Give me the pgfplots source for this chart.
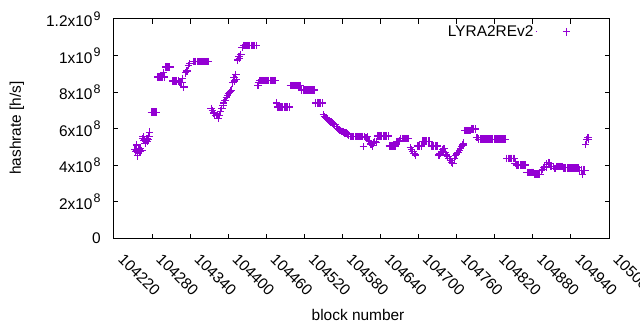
\documentclass[border=0pt]{standalone}
\usepackage{pgfplots}
\pgfplotsset{compat=1.18}
\usepackage{fontspec}
\setmainfont{Liberation Sans}
\definecolor{dviolet}{RGB}{148,0,211}
\newcommand{\ex}[1]{\kern1.2bp\raisebox{0.42em}{\fontsize{12.5}{14}\selectfont #1}}
\begin{document}
\fontsize{15.5}{18}\selectfont
\begin{tikzpicture}
\path[use as bounding box] (-114bp,-92bp) rectangle (526bp,238bp);
\begin{axis}[
  at={(0,0)}, anchor=south west,
  scale only axis, width=495bp, height=219bp,
  xmin=104220, xmax=105000, ymin=0, ymax=12,
  scaled x ticks=false, scaled y ticks=false,
  xtick={104220,104280,104340,104400,104460,104520,104580,104640,104700,104760,104820,104880,104940,105000},
  xticklabels={104220,104280,104340,104400,104460,104520,104580,104640,104700,104760,104820,104880,104940,105000},
  ytick={0,2,4,6,8,10,12},
  yticklabels={0,2x10\ex{8},4x10\ex{8},6x10\ex{8},8x10\ex{8},1x10\ex{9},1.2x10\ex{9}},
  xticklabel style={xshift=11bp, yshift=-7bp, rotate=-45, anchor=north west, font=\fontsize{15.5}{18}\selectfont},
  yticklabel style={xshift=-8bp, font=\fontsize{15.5}{18}\selectfont},
  tick align=inside, major tick length=4.5bp,
  tick style={black, line width=1bp},
  axis line style={line width=1bp},
  xlabel={block number},
  ylabel={hashrate [h/s]},
  xlabel style={at={(axis description cs:0.493,-0.352)}, anchor=center},
  ylabel style={at={(axis description cs:-0.196,0.502)}, anchor=center},
  legend plot pos=right,
  legend style={draw=none, fill=none, at={(rel axis cs:0.664,0.941)}, anchor=west, font=\fontsize{15.5}{18}\selectfont},
  legend image code/.code={\path (0bp,0bp) -- (0.1bp,0bp); \draw[dviolet, line width=1.15bp] plot[only marks, mark=+, mark size=3.7bp] coordinates {(30.5bp,0bp)};},
]
\addplot[only marks, mark=+, mark size=3.7bp, dviolet, line width=1.15bp] table {
x y
104253 4.85
104254 4.75
104255 4.80
104256 5.10
104257 4.50
104258 4.85
104259 4.80
104260 4.85
104261 4.75
104262 4.90
104264 4.80
104265 5.45
104266 5.55
104267 5.35
104268 5.40
104269 5.20
104270 5.30
104271 5.35
104272 5.45
104273 5.30
104274 5.40
104275 5.55
104276 5.80
104279 6.90
104281 6.90
104283 6.90
104285 6.90
104287 6.90
104289 8.82
104291 8.82
104293 8.82
104295 8.82
104297 8.82
104298 9.06
104299 8.82
104302 9.37
104304 9.37
104306 9.37
104308 9.37
104313 8.60
104315 8.60
104317 8.60
104319 8.60
104321 8.60
104323 8.52
104325 8.52
104327 8.52
104328 8.75
104330 8.27
104333 9.05
104335 9.15
104337 9.45
104339 9.55
104345 9.67
104347 9.67
104349 9.67
104351 9.67
104353 9.67
104355 9.67
104357 9.67
104359 9.67
104361 9.67
104363 9.67
104365 9.67
104367 9.67
104369 9.67
104373 7.10
104375 7.00
104377 6.85
104379 6.80
104381 6.70
104383 6.75
104384 6.57
104386 6.72
104388 6.95
104390 7.10
104392 7.25
104393 7.40
104395 7.55
104397 7.70
104399 7.80
104400 7.90
104402 7.95
104404 8.05
104405 8.10
104407 8.50
104409 8.80
104410 8.60
104412 8.95
104413 8.70
104415 9.75
104417 9.95
104418 9.85
104420 10.05
104422 10.45
104424 10.55
104426 10.55
104428 10.55
104430 10.55
104432 10.55
104434 10.55
104436 10.55
104438 10.55
104440 10.55
104442 10.55
104444 10.55
104447 8.35
104448 8.50
104450 8.63
104452 8.63
104454 8.63
104456 8.63
104458 8.63
104460 8.63
104462 8.63
104464 8.63
104466 8.63
104468 8.63
104470 8.63
104472 8.63
104474 8.63
104476 7.40
104478 7.18
104480 7.18
104482 7.18
104484 7.18
104486 7.18
104488 7.18
104490 7.18
104492 7.18
104494 7.18
104496 7.18
104498 8.35
104500 8.35
104502 8.35
104504 8.35
104506 8.35
104508 8.35
104510 8.35
104512 8.35
104514 8.35
104516 8.11
104518 8.11
104520 8.11
104522 8.11
104524 8.11
104526 8.11
104528 8.11
104530 8.11
104532 8.11
104534 8.11
104536 8.11
104538 7.40
104540 7.40
104542 7.40
104544 7.40
104546 7.40
104548 7.40
104550 6.75
104552 6.65
104554 6.60
104556 6.55
104558 6.45
104560 6.40
104562 6.35
104564 6.30
104566 6.25
104568 6.20
104570 6.10
104572 6.00
104574 5.95
104576 5.90
104578 5.85
104580 5.85
104582 5.80
104584 5.75
104586 5.75
104588 5.70
104590 5.65
104592 5.56
104594 5.56
104596 5.56
104598 5.56
104600 5.56
104602 5.56
104604 5.56
104606 5.56
104608 5.56
104610 5.56
104612 5.56
104613 5.00
104615 5.55
104617 5.50
104619 5.55
104621 5.35
104623 5.30
104625 5.15
104627 5.05
104629 5.20
104631 5.30
104633 5.25
104636 5.59
104638 5.59
104640 5.59
104642 5.59
104644 5.59
104646 5.59
104648 5.59
104650 5.59
104652 5.59
104654 5.04
104656 5.04
104658 5.04
104660 5.04
104662 5.04
104664 5.04
104666 5.30
104668 5.30
104670 5.32
104672 5.45
104674 5.45
104676 5.45
104678 5.45
104680 5.45
104682 5.45
104684 5.45
104687 4.95
104689 4.85
104691 4.75
104693 4.65
104695 4.55
104698 5.04
104700 5.04
104702 5.04
104704 5.04
104707 5.31
104709 5.31
104711 5.31
104713 5.31
104715 5.31
104717 5.31
104720 5.04
104722 5.04
104724 5.04
104726 5.04
104728 5.04
104730 5.04
104732 4.55
104734 4.65
104736 4.75
104738 4.85
104740 4.90
104742 4.70
104744 4.55
104746 4.45
104748 4.35
104750 4.25
104752 4.15
104754 4.10
104756 4.35
104758 4.50
104760 4.60
104762 4.70
104764 4.80
104766 4.90
104768 5.00
104770 5.10
104771 5.20
104773 5.88
104775 5.88
104777 5.88
104779 5.88
104781 5.88
104783 5.97
104785 5.97
104787 5.97
104789 5.97
104791 5.50
104793 5.50
104795 5.42
104797 5.42
104799 5.42
104801 5.42
104803 5.42
104805 5.42
104807 5.42
104809 5.42
104811 5.42
104813 5.42
104815 5.42
104817 5.42
104819 5.42
104821 5.42
104823 5.42
104825 5.42
104827 5.42
104829 5.42
104831 5.42
104833 5.42
104835 5.42
104837 5.42
104839 4.36
104841 4.36
104843 4.36
104845 4.36
104847 4.36
104849 4.36
104851 4.36
104852 4.10
104854 4.00
104856 4.00
104858 4.00
104860 4.00
104862 4.00
104864 4.00
104866 4.00
104868 4.00
104871 3.60
104873 3.60
104875 3.60
104877 3.60
104879 3.60
104881 3.60
104883 3.50
104885 3.50
104887 3.50
104889 3.50
104891 3.50
104893 3.70
104895 3.75
104897 3.85
104899 3.90
104901 3.85
104902 4.05
104904 4.15
104906 4.10
104908 3.92
104910 3.92
104912 3.92
104914 3.82
104916 3.82
104918 3.92
104920 3.92
104922 3.92
104924 3.92
104926 3.92
104928 3.84
104930 3.84
104932 3.84
104934 3.84
104936 3.84
104938 3.84
104940 3.84
104942 3.84
104944 3.84
104946 3.84
104948 3.84
104950 3.84
104952 3.84
104954 3.72
104956 3.72
104958 3.50
104960 3.72
104962 3.72
104963 5.12
104965 5.38
104967 5.50
104968 5.42
};
\addlegendentry{LYRA2REv2}
\end{axis}
\end{tikzpicture}
\end{document}
